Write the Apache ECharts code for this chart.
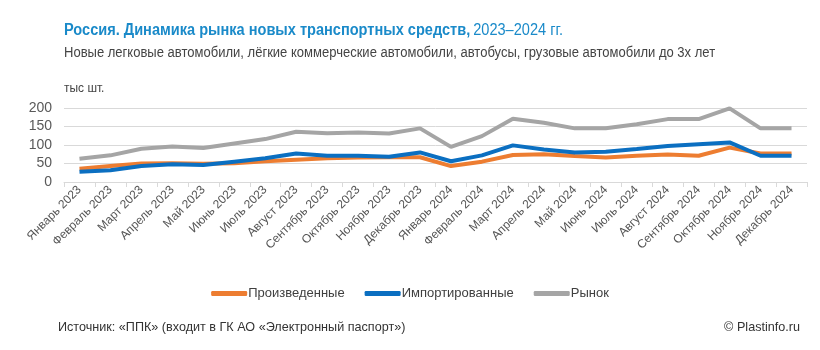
<!DOCTYPE html>
<html>
<head>
<meta charset="utf-8">
<script src="https://cdn.jsdelivr.net/npm/echarts@6/dist/echarts.min.js"></script>
<style>
  html, body { margin: 0; padding: 0; background: #fff; }
  #chart { width: 820px; height: 350px; }
</style>
</head>
<body>
<div id="chart"></div>
<script>
// месяцы
const months = ['Январь 2023', 'Февраль 2023', 'Март 2023', 'Апрель 2023', 'Май 2023', 'Июнь 2023',
  'Июль 2023', 'Август 2023', 'Сентябрь 2023', 'Октябрь 2023', 'Ноябрь 2023', 'Декабрь 2023',
  'Январь 2024', 'Февраль 2024', 'Март 2024', 'Апрель 2024', 'Май 2024', 'Июнь 2024',
  'Июль 2024', 'Август 2024', 'Сентябрь 2024', 'Октябрь 2024', 'Ноябрь 2024', 'Декабрь 2024']
// тыс шт.
const produced = [36, 43, 50, 51, 49, 51, 56, 60, 64, 66, 67, 67, 43, 55, 73, 75, 70, 66, 71, 74, 71, 93, 77, 77]
const imported = [28, 32, 43, 48, 46, 55, 64, 77, 71, 71, 68, 80, 56, 72, 99, 88, 80, 82, 89, 97, 102, 107, 71, 71]
const market = [63, 72, 90, 96, 92, 104, 116, 136, 132, 134, 131, 145, 95, 124, 171, 160, 145, 145, 156, 170, 170, 199, 145, 145]
const yTicks = { min: 0, max: 200, step: 50 }

const sans = '"Liberation Sans", Arial, sans-serif'

// узкий шрифт не установлен, поэтому сжимаем текст по горизонтали
function label (x, y, text, font, fill, sx, align) {
  return {
    type: 'text', x: x, y: y, scaleX: sx,
    style: { text: text, font: font, fill: fill, align: align || 'left', verticalAlign: 'middle' }
  }
}

let myChart = echarts.init(document.getElementById('chart'))
myChart.setOption({
  backgroundColor: '#fff',
  animation: false,
  graphic: [
    {
      type: 'text', x: 64, y: 31, scaleX: 0.91,
      style: {
        text: '{b|Россия. Динамика рынка новых транспортных средств,} {n|2023–2024 гг.}',
        verticalAlign: 'middle',
        rich: {
          b: { font: 'bold 16px ' + sans, fill: '#1a8ac9' },
          n: { font: '16px ' + sans, fill: '#1a8ac9' }
        }
      }
    },
    label(64, 53, 'Новые легковые автомобили, лёгкие коммерческие автомобили, автобусы, грузовые автомобили до 3х лет',
      '14px ' + sans, '#444', 0.93),
    label(64, 88, 'тыс шт.', '13px ' + sans, '#444', 0.92),
    label(58, 327, 'Источник: «ППК» (входит в ГК АО «Электронный паспорт»)', '13px ' + sans, '#333', 0.97),
    label(800, 327, '© Plastinfo.ru', '13px ' + sans, '#333', 0.97, 'right')
  ],
  legend: {
    top: 282,
    left: 'center',
    itemWidth: 36,
    itemHeight: 5,
    itemGap: 20,
    icon: 'roundRect',
    textStyle: { fontFamily: sans, fontSize: 13, color: '#404040', padding: [0, 0, 0, -4] },
    data: ['Произведенные', 'Импортированные', 'Рынок']
  },
  grid: { left: 64, right: 13, top: 108, bottom: 168 },
  xAxis: {
    type: 'category',
    data: months,
    boundaryGap: true,
    axisLine: { lineStyle: { color: '#d9d9d9' } },
    axisTick: { show: true, length: 5, lineStyle: { color: '#d9d9d9' } },
    axisLabel: { interval: 0, rotate: 45, fontFamily: sans, fontSize: 12, color: '#555', margin: 6 }
  },
  yAxis: {
    type: 'value',
    min: yTicks.min,
    max: yTicks.max,
    interval: yTicks.step,
    axisLine: { show: false },
    axisTick: { show: false },
    axisLabel: { fontFamily: sans, fontSize: 14, color: '#595959', margin: 12 },
    splitLine: { lineStyle: { color: '#d9d9d9' } }
  },
  series: [
    {
      name: 'Произведенные', type: 'line', data: produced,
      symbol: 'none', lineStyle: { width: 4, color: '#ed7d31' }, itemStyle: { color: '#ed7d31' }, z: 3
    },
    {
      name: 'Импортированные', type: 'line', data: imported,
      symbol: 'none', lineStyle: { width: 4, color: '#0b6fc1' }, itemStyle: { color: '#0b6fc1' }, z: 4
    },
    {
      name: 'Рынок', type: 'line', data: market,
      symbol: 'none', lineStyle: { width: 4, color: '#a5a5a5' }, itemStyle: { color: '#a5a5a5' }, z: 2
    }
  ]
})
</script>
</body>
</html>
